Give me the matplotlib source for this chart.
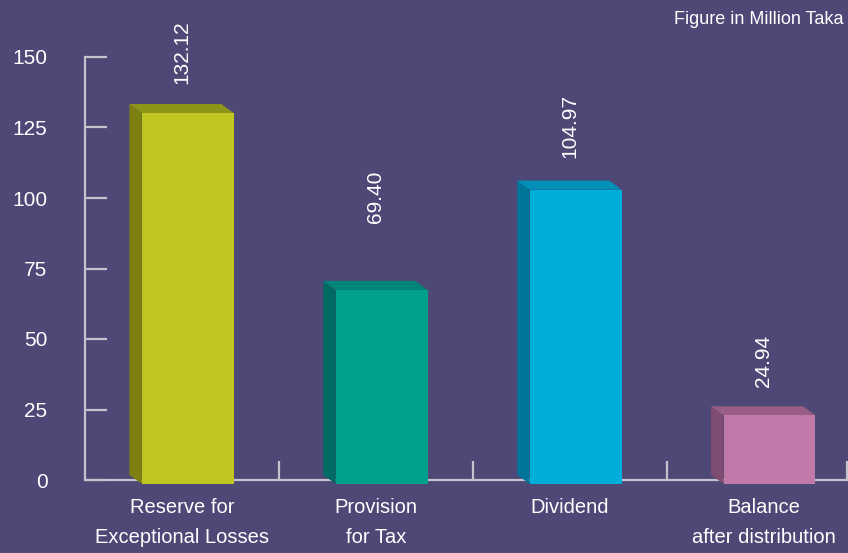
import matplotlib.pyplot as plt
import numpy as np
from matplotlib.patches import Polygon

categories = ['Reserve for\nExceptional Losses', 'Provision\nfor Tax', 'Dividend',
              'Balance\nafter distribution']
values = [132.12, 69.40, 104.97, 24.94]
value_labels = ['132.12', '69.40', '104.97', '24.94']
y_ticks = [0, 25, 50, 75, 100, 125, 150]

BG = '#4e4876'
AXIS = '#c4c2cc'
front_colors = ['#bfc521', '#00a08e', '#00aedb', '#c079a8']
side_colors = ['#7b8010', '#006b62', '#00759a', '#7f4c72']
top_colors = ['#8e9418', '#00857a', '#0090b8', '#9a5e86']
label_gaps = [7, 20.5, 8, 7]

plt.rcParams['font.family'] = ['Liberation Sans', 'DejaVu Sans']

fig = plt.figure(figsize=(8.48, 5.53), dpi=100, facecolor=BG)
ax = fig.add_axes([85 / 848, 1 - 480 / 553, 1 - 85 / 848, (480 - 57) / 553])
ax.set_facecolor(BG)
ax.set_xlim(-0.5, 3.435)
ax.set_ylim(0, 150)

w = 0.474
shift = 0.03
dx, dy = 0.064, 3.2
base = -1.4

for i, v in enumerate(values):
    xl = i + shift - w / 2
    xr = i + shift + w / 2
    top = v - 2
    side = Polygon([(xl, base), (xl, top), (xl - dx, top + dy), (xl - dx, base + dy)],
                   closed=True, facecolor=side_colors[i], edgecolor='none',
                   zorder=3, clip_on=False)
    lid = Polygon([(xl, top), (xr, top), (xr - dx, top + dy), (xl - dx, top + dy)],
                  closed=True, facecolor=top_colors[i], edgecolor='none',
                  zorder=3, clip_on=False)
    ax.add_patch(side)
    ax.add_patch(lid)
    ax.bar(i + shift, top - base, bottom=base, width=w, color=front_colors[i],
           zorder=4, clip_on=False)
    ax.text(i, top + dy + label_gaps[i], value_labels[i], rotation=90,
            ha='center', va='bottom', color='white', fontsize=15, clip_on=False)

for s in ['top', 'right']:
    ax.spines[s].set_visible(False)
ax.spines['left'].set_color(AXIS)
ax.spines['bottom'].set_color(AXIS)
ax.spines['left'].set_linewidth(1.6)
ax.spines['bottom'].set_linewidth(1.6)
ax.spines['bottom'].set_zorder(2)

ax.set_yticks(y_ticks)
ax.set_yticklabels([str(t) for t in y_ticks])
ax.tick_params(axis='y', direction='in', length=16, width=1.6, color=AXIS,
               labelcolor='white', labelsize=15, pad=27)

ax.set_xticks(np.arange(len(categories)))
ax.set_xticklabels(categories, color='white', fontsize=14.5)
for t in ax.get_xticklabels():
    t.set_linespacing(1.7)
ax.tick_params(axis='x', which='major', length=0, pad=13)
ax.set_xticks([0.5, 1.5, 2.5, 3.43], minor=True)
ax.tick_params(axis='x', which='minor', direction='in', length=14, width=1.6,
               color=AXIS)

fig.text(843 / 848, 1 - 19 / 553, 'Figure in Million Taka', ha='right', va='center',
         color='white', fontsize=13)

fig.savefig('out.png', dpi=100, facecolor=BG)
